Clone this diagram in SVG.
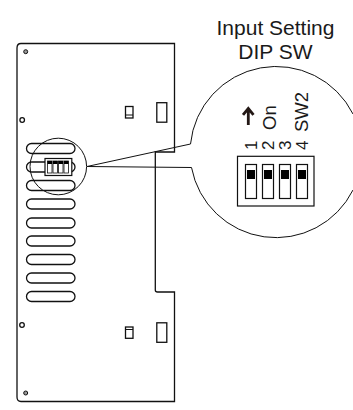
<svg xmlns="http://www.w3.org/2000/svg" width="353" height="410" viewBox="0 0 353 410">
<style>
.l{fill:none;stroke:#111;stroke-width:1}
.p{fill:none;stroke:#111;stroke-width:1.3}
.s{fill:#fff;stroke:#111;stroke-width:1.2}
.b{fill:#000}
text{font-family:"Liberation Sans",Arial,sans-serif;fill:#1a1a1a}
.t{font-size:21px;text-anchor:middle}
.r{font-size:18.500px}
.d{font-size:17px}
</style>
<rect width="353" height="410" fill="#fff"/>
<g id="plate">
<path class="p" d="M21 43.500H174.500V152H155.300V290Q155.300 292 157.500 292H174.500V401.500H21Q17 401.500 17 397V48Q17 43.500 21 43.500Z"/>
<circle cx="25.700" cy="51.700" r="2" fill="#999" stroke="#111"/>
<circle cx="22.200" cy="120" r="2.300" fill="#fff" stroke="#111" stroke-width="1.300"/>
<circle cx="22" cy="325" r="2.300" fill="#fff" stroke="#111" stroke-width="1.300"/>
<circle cx="25.700" cy="393" r="2" fill="#999" stroke="#111"/>
<rect class="p" x="125.500" y="106.500" width="7.500" height="11.500"/>
<path class="l" d="M125.500 115H133"/>
<rect class="p" x="156.800" y="102.700" width="10" height="19.500"/>
<rect class="p" x="125.500" y="327" width="7.500" height="11.300"/>
<path class="l" d="M125.500 329.500H133"/>
<rect class="p" x="156.800" y="322.800" width="10" height="19.500"/>
</g>
<g id="slots">
<rect class="p" x="26.500" y="143.500" width="48.500" height="10" rx="5"/>
<rect class="p" x="26.500" y="162" width="48.500" height="10" rx="5"/>
<rect class="p" x="26.500" y="180.500" width="48.500" height="10" rx="5"/>
<rect class="p" x="26.500" y="199" width="48.500" height="10" rx="5"/>
<rect class="p" x="26.500" y="218" width="48.500" height="10" rx="5"/>
<rect class="p" x="26.500" y="236" width="48.500" height="10" rx="5"/>
<rect class="p" x="26.500" y="254.500" width="48.500" height="10" rx="5"/>
<rect class="p" x="26.500" y="273" width="48.500" height="10" rx="5"/>
<rect class="p" x="26.500" y="291.500" width="48.500" height="10" rx="5"/>
</g>
<g id="small-lens">
<circle class="l" cx="58.300" cy="166.500" r="28.300"/>
<rect x="45" y="158.500" width="26.800" height="17" fill="#fff" stroke="#111" stroke-width="1.200"/>
<g fill="#fff" stroke="#111" stroke-width=".8">
<rect x="47.500" y="161" width="4.500" height="12"/><rect x="53" y="161" width="4.500" height="12"/><rect x="58.500" y="161" width="4.500" height="12"/><rect x="64" y="161" width="4.500" height="12"/>
</g>
<g class="b"><rect x="47.500" y="161" width="4.500" height="3"/><rect x="53" y="161" width="4.500" height="3"/><rect x="58.500" y="161" width="4.500" height="3"/><rect x="64" y="161" width="4.500" height="3"/></g>
</g>
<g id="connectors">
<path class="l" d="M87 166.500L190.500 144M87 166.500L191.500 167.500"/>
</g>
<g id="big-lens">
<path class="l" d="M190.500 144A86 86 0 0 1 353 114M353 190A86 86 0 0 1 191.500 167.500"/>
<rect x="237.500" y="156.300" width="76.500" height="49.700" fill="#fff" stroke="#111" stroke-width="1.200"/>
<rect class="s" x="245.500" y="164.500" width="11" height="34"/>
<rect class="s" x="262.500" y="164.500" width="11" height="34"/>
<rect class="s" x="279.500" y="164.500" width="11" height="34"/>
<rect class="s" x="296.500" y="164.500" width="11" height="34"/>
<rect class="b" x="247" y="170" width="8" height="9"/>
<rect class="b" x="264" y="170" width="8" height="9"/>
<rect class="b" x="281" y="170" width="8" height="9"/>
<rect class="b" x="298" y="170" width="8" height="9"/>
<path d="M248.300 125V110M243 114.800L248.300 108.500L253.500 114.800" fill="none" stroke="#231815" stroke-width="2.800"/>
<text class="d" transform="translate(257 150) rotate(-90)">1</text>
<text class="d" transform="translate(273.800 150) rotate(-90)">2</text>
<text class="d" transform="translate(290.800 150) rotate(-90)">3</text>
<text class="d" transform="translate(307.800 150) rotate(-90)">4</text>
<text class="r" transform="translate(276 130) rotate(-90)">On</text>
<text class="r" transform="translate(307.800 132) rotate(-90)">SW2</text>
</g>
<g id="title">
<text class="t" x="275.500" y="34.500">Input Setting</text>
<text class="t" x="275.500" y="59">DIP SW</text>
</g>
</svg>
